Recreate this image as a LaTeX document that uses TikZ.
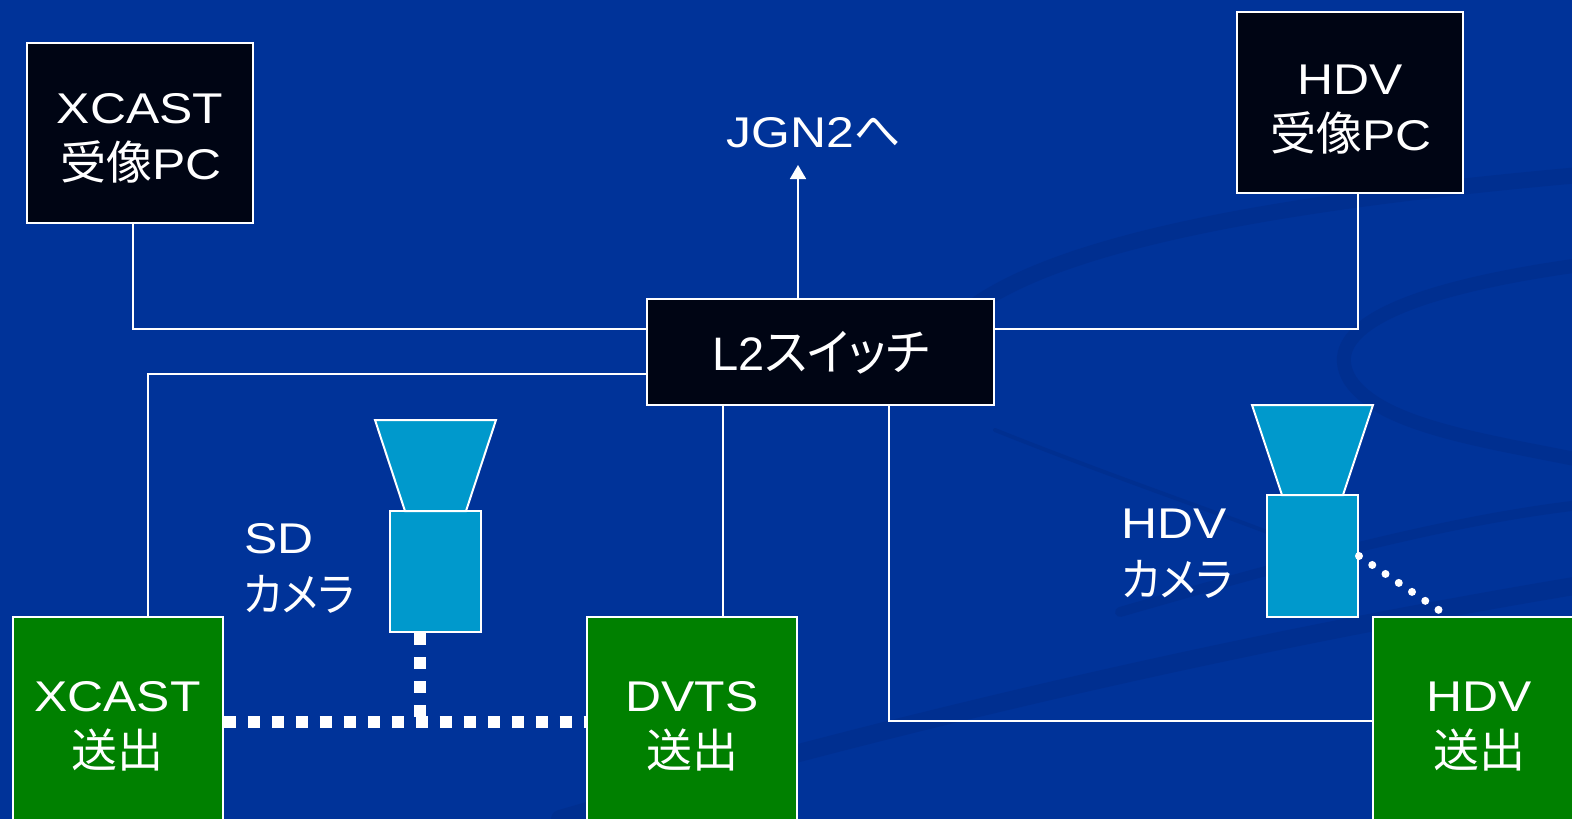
\documentclass[tikz,border=0pt]{standalone}
\usepackage{fontspec}
\setmainfont[FakeStretch=1.16]{Liberation Sans}
\newfontfamily\latplain{Liberation Sans}
\newfontfamily\jpfont[RawFeature=+palt]{Noto Sans CJK JP}
\newfontfamily\jpkana[RawFeature=+palt,FakeStretch=0.91]{Noto Sans CJK JP}
\newfontfamily\jpsw[RawFeature=+palt,FakeStretch=0.95]{Noto Sans CJK JP}
\newcommand\jp[1]{{\jpfont\fontsize{46}{50}\selectfont #1}}
\newcommand\jpk[1]{{\jpkana\fontsize{46}{50}\selectfont #1}}
\newcommand\jpbig[1]{{\jpsw\fontsize{50}{54}\selectfont #1}}
\usetikzlibrary{arrows.meta}
\pgfdeclarelayer{back}
\pgfdeclarelayer{lines}
\pgfsetlayers{back,lines,main}
\definecolor{bg}{RGB}{0,51,153}
\definecolor{swirl}{RGB}{0,44,138}
\definecolor{boxblack}{RGB}{0,5,20}
\definecolor{boxgreen}{RGB}{0,128,0}
\definecolor{camblue}{RGB}{0,153,204}
\begin{document}
\begin{tikzpicture}[x=1pt,y=-1pt,
  pcbox/.style={draw=white, line width=2pt, fill=boxblack, inner sep=0pt},
  sendbox/.style={draw=white, line width=2pt, fill=boxgreen, inner sep=0pt, minimum width=210pt, minimum height=222pt},
  cambody/.style={draw=white, line width=2pt, fill=camblue, inner sep=0pt, minimum width=91pt},
  camlens/.style={draw=white, line width=2pt, fill=camblue, line join=miter},
  link/.style={draw=white, line width=1.8pt},
  sqdots/.style={draw=white, line width=12pt, dash pattern=on 12pt off 12pt},
  rnddots/.style={draw=white, line width=8pt, line cap=round, dash pattern=on 0pt off 16pt},
  lbl/.style={text=white, inner sep=0pt, anchor=base, font=\fontsize{43}{50}\selectfont},
  lblw/.style={lbl, anchor=base west},
  swirlband/.style={draw=swirl, line width=#1, line cap=round, opacity=0.55},
]
\useasboundingbox (0,0) rectangle (1572,819);
\begin{pgfonlayer}{back}
\fill[bg] (0,0) rectangle (1572,819);
% faint background swirls
\draw[swirlband=16pt] (955,322) .. controls (1040,240) and (1300,200) .. (1580,175);
\draw[swirlband=14pt] (1580,265) .. controls (1400,290) and (1320,330) .. (1350,380) .. controls (1380,425) and (1480,440) .. (1580,460);
\draw[swirlband=4pt] (995,430) .. controls (1120,480) and (1240,520) .. (1300,545);
\draw[swirlband=18pt] (560,819) .. controls (900,720) and (1250,640) .. (1580,585);
\draw[swirlband=10pt] (1120,612) .. controls (1300,560) and (1450,520) .. (1580,505);
\end{pgfonlayer}

\coordinate (jgn) at (798,165);
\coordinate (hdvdot) at (1439.5,610.5);
\coordinate (sdj) at (420,722);

% boxes
\node[pcbox, minimum width=226pt, minimum height=180pt] (xr) at (140,133) {};
\node[pcbox, minimum width=226pt, minimum height=181pt] (hr) at (1350,102.5) {};
\node[pcbox, minimum width=347pt, minimum height=106pt] (sw) at (820.5,352) {};

\node[cambody, minimum height=121pt] (sdcam) at (435.5,571.5) {};
\node[cambody, minimum height=122pt] (hdcam) at (1312.5,556) {};
\draw[camlens] (375,420) -- (496,420) -- (466,511) -- (405,511) -- cycle;
\draw[camlens] (1252,405) -- (1373,405) -- (1343,495) -- (1282,495) -- cycle;

\node[sendbox] (xs) at (117.5,728) {};
\node[sendbox] (dv) at (692,728) {};
\node[sendbox] (hs) at (1478,728) {};

% connectors, below the boxes
\begin{pgfonlayer}{lines}
\draw[link] ([xshift=-7pt]xr.south) |- ([yshift=23pt]sw.west);
\draw[link] ([xshift=8pt]hr.south) |- ([yshift=23pt]sw.east);
\draw[link, -{Triangle[width=16pt,length=14pt]}] (jgn |- sw.north) -- (jgn);
\draw[link] ([yshift=-22pt]sw.west) -| ([xshift=30.5pt]xs.north);
\draw[link] ([xshift=-97.5pt]sw.south) -- ([xshift=-97.5pt]sw.south |- dv.north);
\draw[link] ([xshift=68.5pt]sw.south) |- ([yshift=7pt]hs.west);
\draw[sqdots] ([yshift=6pt]xs.east) -- ([yshift=6pt]dv.west);
\draw[sqdots] (sdj |- sdcam.south) -- (sdj);
\end{pgfonlayer}
\draw[rnddots] (hdcam.east) -- (hdvdot);

% texts
\node[lbl] (t1) at (140,123) {XCAST};
\node[lbl] (t2) at (141,179) {\jp{受像}PC};
\node[lbl] (t3) at (1350,94) {HDV};
\node[lbl] (t4) at (1351,150) {\jp{受像}PC};
\node[lbl] (t5) at (814,147) {JGN2\jp{へ}};
\node[lbl, font=\fontsize{47}{54}\latplain] (t6) at (821,370) {L2\jpbig{スイッチ}};
\node[lblw] (t7) at (244,553) {SD};
\node[lblw] (t8) at (243,611) {\jpk{カメラ}};
\node[lblw] (t9) at (1121,538) {HDV};
\node[lblw] (t10) at (1121,596) {\jpk{カメラ}};
\node[lbl] (t11) at (117.5,711) {XCAST};
\node[lbl] (t12) at (117.5,767) {\jp{送出}};
\node[lbl] (t13) at (692,711) {DVTS};
\node[lbl] (t14) at (692,767) {\jp{送出}};
\node[lbl] (t15) at (1479,711) {HDV};
\node[lbl] (t16) at (1479,767) {\jp{送出}};
\end{tikzpicture}
\end{document}
